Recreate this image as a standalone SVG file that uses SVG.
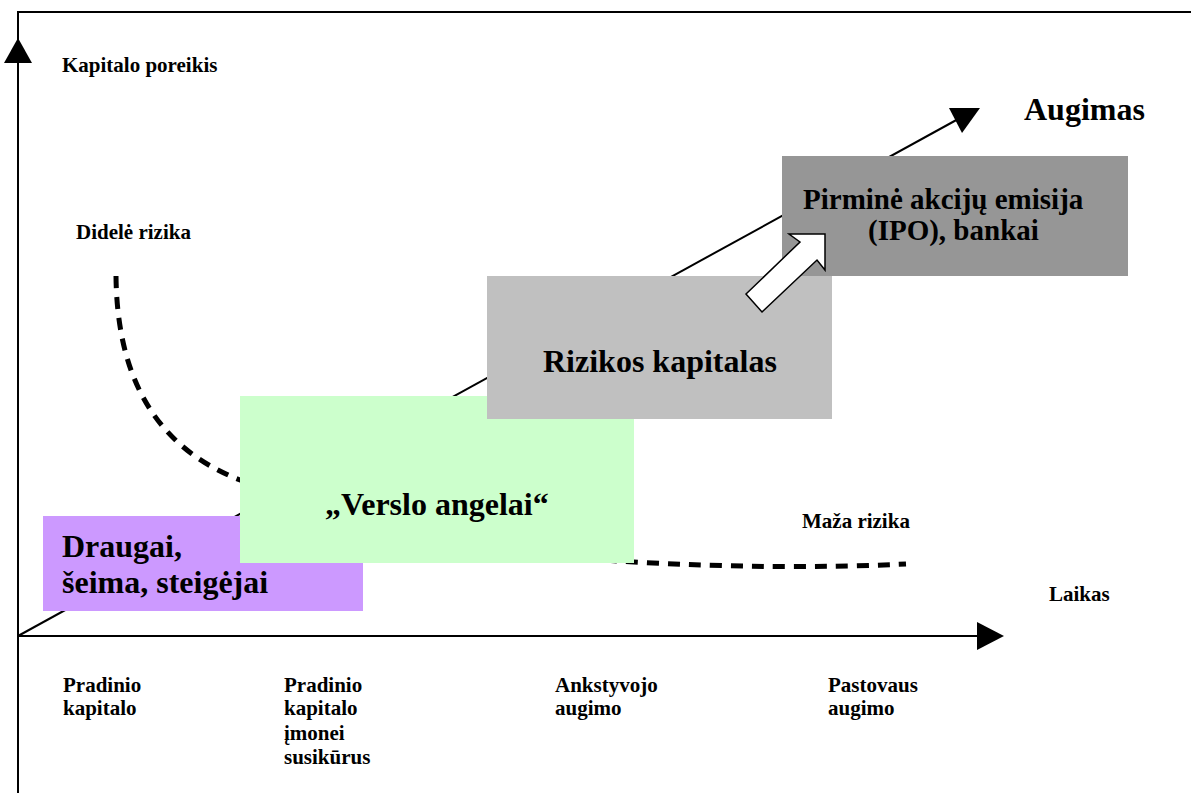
<svg xmlns="http://www.w3.org/2000/svg" width="1191" height="793" viewBox="0 0 1191 793">
  <style>
    text { font-family: "Liberation Serif", "Times New Roman", serif; font-weight: bold; fill: #000; }
    .small { font-size: 21px; }
    .big { font-size: 32px; }
    .ipo { font-size: 29px; }
    .axis { stroke: #000; stroke-width: 2; fill: none; }
    .box { stroke: none; }
  </style>

  <rect width="1191" height="793" fill="#fff"/>

  <!-- frame, axes and growth trend -->
  <g id="connectors">
    <path class="axis" d="M18,793 V12 H1191"/>
    <polygon points="18,38 4,63 32,63" fill="#000"/>
    <line class="axis" x1="18" y1="636" x2="980" y2="636"/>
    <polygon points="1004,636 977,622 977,650" fill="#000"/>
    <line x1="18" y1="636" x2="960" y2="118" stroke="#000" stroke-width="2"/>
    <polygon points="980,108 949,108 962,133" fill="#000"/>
    <!-- risk curve -->
    <path d="M116,276 C117,370 150,445 240,480 C300,505 500,555 634,562 Q780,570 906,564" fill="none" stroke="#000" stroke-width="5" stroke-dasharray="12 9"/>
  </g>

  <g id="node-draugai">
    <rect class="box" x="43" y="516" width="320" height="95" fill="#CC99FF"/>
    <text class="big" x="62" y="557">Draugai,</text>
    <text class="big" x="62" y="593">šeima, steigėjai</text>
  </g>

  <g id="node-angelai">
    <rect class="box" x="240" y="396" width="394" height="167" fill="#CCFFCC"/>
    <text class="big" x="325" y="515">„Verslo angelai“</text>
  </g>

  <g id="node-rizikos">
    <rect class="box" x="487" y="276" width="345" height="143" fill="#C0C0C0"/>
    <text class="big" x="543" y="372">Rizikos kapitalas</text>
  </g>

  <g id="node-ipo">
    <rect class="box" x="782" y="156" width="346" height="120" fill="#969696"/>
    <text class="ipo" x="803" y="209">Pirminė akcijų emisija</text>
    <text class="ipo" x="868" y="240">(IPO), bankai</text>
  </g>

  <!-- block arrow between stages -->
  <g id="block-arrow">
    <polygon points="825,234 825,270 817,260 762,312 746,294 800,242 789,234" fill="#fff" stroke="#000" stroke-width="1.5" stroke-linejoin="miter"/>
  </g>

  <g id="labels">
    <text class="small" x="62" y="72">Kapitalo poreikis</text>
    <text class="small" x="76" y="239">Didelė rizika</text>
    <text x="1024" y="120" style="font-size:32px">Augimas</text>
    <text class="small" x="802" y="528">Maža rizika</text>
    <text class="small" x="1049" y="601">Laikas</text>
    <text class="small" x="63" y="692">Pradinio</text>
    <text class="small" x="63" y="715">kapitalo</text>
    <text class="small" x="284" y="692">Pradinio</text>
    <text class="small" x="284" y="715">kapitalo</text>
    <text class="small" x="284" y="740">įmonei</text>
    <text class="small" x="284" y="764">susikūrus</text>
    <text class="small" x="555" y="692">Ankstyvojo</text>
    <text class="small" x="555" y="715">augimo</text>
    <text class="small" x="828" y="692">Pastovaus</text>
    <text class="small" x="828" y="715">augimo</text>
  </g>
</svg>
